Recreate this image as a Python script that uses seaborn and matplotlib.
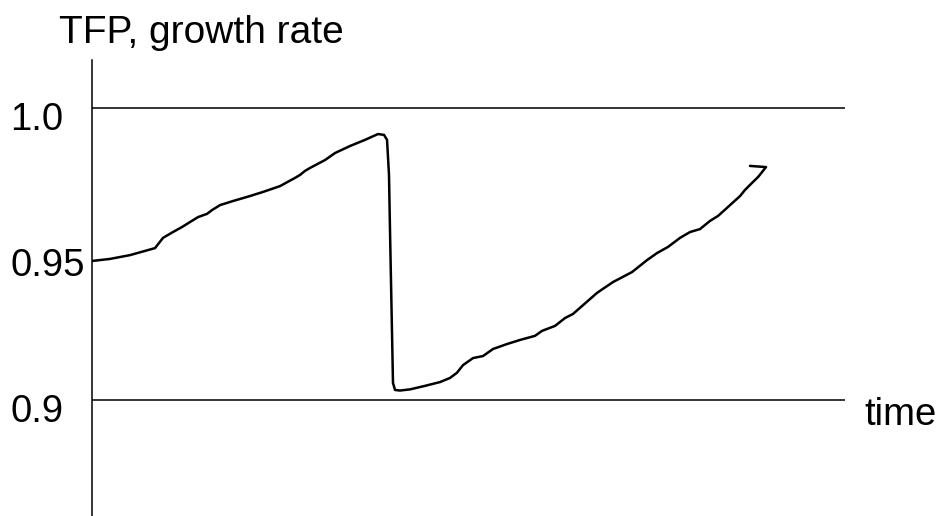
import matplotlib
matplotlib.use("Agg")
import matplotlib.pyplot as plt
import matplotlib.transforms as mtransforms
import pandas as pd
import seaborn as sns

# =============================================================================
# DATA
# =============================================================================
time = [0.0, 2.39, 5.05, 8.37, 9.43, 10.76, 11.95, 13.01, 14.08, 15.27,
        15.94, 17.0, 18.73, 20.98, 22.71, 24.97, 26.96, 27.62, 28.29, 28.95,
        30.94, 32.27, 34.26, 36.25, 37.98, 38.78, 39.18, 39.44, 39.58, 39.84,
        39.97, 40.24, 40.90, 42.23, 44.22, 46.22, 47.54, 48.47, 49.27, 50.60,
        51.93, 53.25, 55.11, 56.84, 58.83, 59.76, 61.49, 62.82, 63.88, 65.21,
        67.07, 69.19, 71.71, 73.71, 75.03, 76.49, 78.09, 79.42, 80.74, 82.07,
        83.14, 84.73, 86.06, 86.72, 87.65, 88.45, 89.51, 87.38]
tfp = [0.9477, 0.9484, 0.9497, 0.9521, 0.9556, 0.9576, 0.9593, 0.9610, 0.9627, 0.9638,
       0.9651, 0.9668, 0.9682, 0.9699, 0.9713, 0.9733, 0.9761, 0.9771, 0.9785, 0.9795,
       0.9822, 0.9846, 0.9870, 0.9891, 0.9911, 0.9908, 0.9891, 0.9771, 0.9573, 0.9231,
       0.9060, 0.9036, 0.9034, 0.9038, 0.9050, 0.9063, 0.9077, 0.9095, 0.9121, 0.9145,
       0.9152, 0.9176, 0.9193, 0.9207, 0.9221, 0.9238, 0.9255, 0.9282, 0.9296, 0.9326,
       0.9368, 0.9405, 0.9439, 0.9480, 0.9504, 0.9525, 0.9556, 0.9576, 0.9586, 0.9614,
       0.9631, 0.9668, 0.9699, 0.9720, 0.9744, 0.9764, 0.9798, 0.9802]

ref_levels = [1.0, 0.9]
tick_vals = [1.0, 0.95, 0.9]
tick_labels = ["1.0", "0.95", "0.9"]
x_end = 100

df = pd.DataFrame({"time": time, "tfp": tfp})

# =============================================================================
# PLOTTING
# =============================================================================
sns.set_style("white")
plt.rcParams["font.family"] = ["Liberation Sans", "DejaVu Sans"]
plt.rcParams["text.color"] = "black"
plt.rcParams["ytick.color"] = "black"

W, H = 939, 516
fig = plt.figure(figsize=(W / 100, H / 100), dpi=100)
ax = fig.add_axes([92 / W, 0, (850 - 92) / W, (H - 60) / H])

# reference lines at 1.0 and 0.9
ax.hlines(ref_levels, 0, x_end, color="black", lw=1.1)

# the TFP path
sns.lineplot(data=df, x="time", y="tfp", ax=ax, sort=False, estimator=None,
             color="black", lw=1.8)

ax.set_xlim(0, 100.66)
ax.set_ylim(0.86051, 1.01641)

for side in ["top", "right", "bottom"]:
    ax.spines[side].set_visible(False)
ax.spines["left"].set_color("black")
ax.spines["left"].set_linewidth(1.1)

ax.set_xticks([])
ax.set_xlabel("")
ax.set_ylabel("")
ax.set_yticks(tick_vals)
ax.set_yticklabels(tick_labels, fontsize=27.5, color="black")
ax.tick_params(axis="y", length=0, pad=59)
shift = mtransforms.ScaledTranslation(0, -8 / 100, fig.dpi_scale_trans)
for lab in ax.get_yticklabels():
    lab.set_ha("left")
    lab.set_transform(lab.get_transform() + shift)

fig.text(59 / W, 1 - 43.3 / H, "TFP, growth rate", fontsize=28,
         ha="left", va="baseline", color="black")
ax.text(102.6, 0.8916, "time", fontsize=27.5, ha="left", va="baseline",
        clip_on=False, color="black")

plt.savefig("out.png", dpi=100)
